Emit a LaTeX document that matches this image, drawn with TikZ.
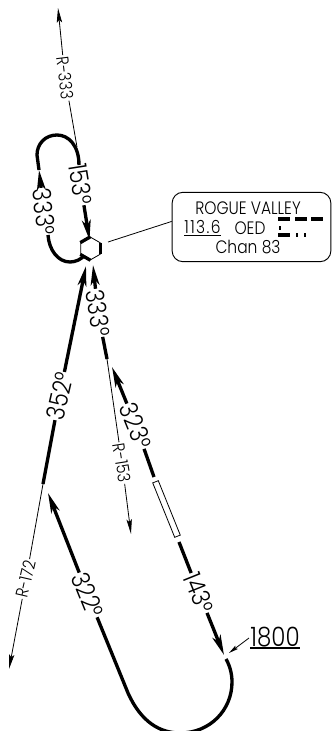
\documentclass[tikz,border=0pt]{standalone}
\usepackage{fontspec}
\setmainfont{Poppins Light}[FakeStretch=0.86]
\usetikzlibrary{arrows.meta,shapes.geometric}
\tikzset{
  track/.style={line width=2.5pt},
  trackarrow/.style={line width=2.5pt,-{Stealth[length=15pt,width=6.5pt,inset=4pt]}},
  radial/.style={line width=0.6pt},
  radialarrow/.style={line width=0.6pt,-{Stealth[length=11pt,width=4pt,inset=2pt]}},
  bearing/.style={font=\fontsize{19}{19}\selectfont,inner sep=0.5pt},
  radiallabel/.style={font=\fontsize{13}{13}\selectfont,inner sep=1pt},
  boxtext/.style={font=\fontsize{13.5}{14}\selectfont,inner sep=0pt},
  morse/.style={line width=2.4pt}
}
\begin{document}
\begin{tikzpicture}[x=0.75pt,y=-0.75pt]
\useasboundingbox (0,0) rectangle (332,731);
% station and its box
\node [draw,line width=0.6pt,regular polygon,regular polygon sides=6,regular polygon rotate=30,minimum size=17pt,inner sep=0pt] (vor) at (90.5,248.5) {};
\draw [track] (vor.corner 1) -- (vor.corner 2);
\draw [track] (vor.corner 6) -- (vor.corner 5);
\draw [track] (vor.corner 3) -- (vor.corner 4);
\node [draw,line width=0.7pt,rounded corners=8pt,minimum width=119pt,minimum height=52pt,inner sep=0pt] (box) at (251.5,227) {};
\coordinate (leadstart) at (108,242);
\draw [radial] (leadstart) -- (box.176);
\node [boxtext] (name) at (248,208) {ROGUE VALLEY};
\node [boxtext] (freq) at (202.5,228) {\underline{\addfontfeature{LetterSpace=8}113.6}};
\node [boxtext] (ident) at (250,228) {OED};
\node [boxtext] (chan) at (248,247) {Chan 83};
\draw [morse] (278,219) -- (290,219);
\draw [morse] (295,219) -- (307,219);
\draw [morse] (311,219) -- (323,219);
\draw [morse] (279,228) -- (281,228);
\draw [morse] (278,235) -- (290,235);
\draw [morse] (296,235) -- (298,235);
\draw [morse] (304,235) -- (306,235);
% R-333 and the hold
\coordinate (r333tip) at (58,8);
\coordinate (r333end) at (77,147);
\node [radiallabel,rotate=-83] (r333) at (65,78) {R-333};
\draw [radialarrow] (r333) -- (r333tip);
\draw [radial] (r333) -- (r333end);
\node [bearing,rotate=-81] (holdin) at (80.5,184) {153°};
\node [bearing,rotate=-83] (holdout) at (44,212) {333°};
\coordinate (holdtip) at (39,170);
\coordinate (holdtop) at (57,135);
\coordinate (holdleft) at (37,155);
\coordinate (holdend) at (84,256);
\coordinate (vorin) at (89.5,240);
\draw [trackarrow] (holdin) -- (vorin);
\draw [track] (holdin) -- (79,165) .. controls (79,146) and (69,135) .. (holdtop) .. controls (45,135) and (37,144) .. (holdleft) -- (holdtip);
\draw [trackarrow] (holdout) -- (holdtip);
\draw [track] (holdout) -- (48,235) .. controls (49,250) and (58,262) .. (70,262) .. controls (76,262) and (81,259) .. (holdend);
% 352 and R-172
\coordinate (vorsw) at (86,266);
\coordinate (r172start) at (43,484);
\coordinate (r172tip) at (9,669);
\node [bearing,rotate=77] (inb) at (59.5,396) {352°};
\node [radiallabel,rotate=77] (r172) at (26,579) {R-172};
\draw [trackarrow] (inb) -- (vorsw);
\draw [track] (inb) -- (r172start);
\draw [radial] (r172start) -- (r172);
\draw [radialarrow] (r172) -- (r172tip);
% 333 and R-153
\coordinate (vorse) at (93,265);
\coordinate (r153start) at (107,359);
\coordinate (r153tip) at (131,534);
\node [bearing,rotate=-81] (outb) at (98,313) {333°};
\node [radiallabel,rotate=-81] (r153) at (122,463) {R-153};
\draw [trackarrow] (outb) -- (vorse);
\draw [track] (outb) -- (r153start);
\draw [radial] (r153start) -- (r153);
\draw [radialarrow] (r153) -- (r153tip);
% procedure turn
\coordinate (pttip) at (112,367);
\coordinate (turntip) at (48,493);
\coordinate (fixtip) at (224,655);
\coordinate (fixend) at (226,659);
\node [bearing,rotate=-68] (pt1) at (136,426) {323°};
\node [bearing,rotate=-68] (pt2) at (199,593) {143°};
\node [bearing,rotate=-68] (pt3) at (88,595) {322°};
\node [draw,line width=0.6pt,rotate=-68,minimum width=44pt,minimum height=4.5pt,inner sep=0pt] (fix) at (166.5,509) {};
\draw [trackarrow] (pt1) -- (pttip);
\draw [track] (pt1) -- (154,477);
\draw [track] (179,542) -- (pt2);
\draw [trackarrow] (pt2) -- (fixtip);
\draw [trackarrow] (pt3) -- (turntip);
\draw [track] (pt3) -- (128,693) .. controls (141,722) and (160,733) .. (180,733) .. controls (210,733) and (232,710) .. (232,682) .. controls (232,674) and (230,666) .. (fixend);
% altitude
\node [font=\fontsize{20}{20}\selectfont,inner sep=0pt] (alt) at (275,637) {1800};
\draw [line width=0.8pt] (alt.south west |- 0,648) -- (alt.south east |- 0,648);
\coordinate (altstart) at (249,638);
\coordinate (alttip) at (229,653);
\draw [line width=0.6pt,-{Stealth[length=7pt,width=3pt,inset=1pt]}] (altstart) -- (alttip);
\end{tikzpicture}
\end{document}
